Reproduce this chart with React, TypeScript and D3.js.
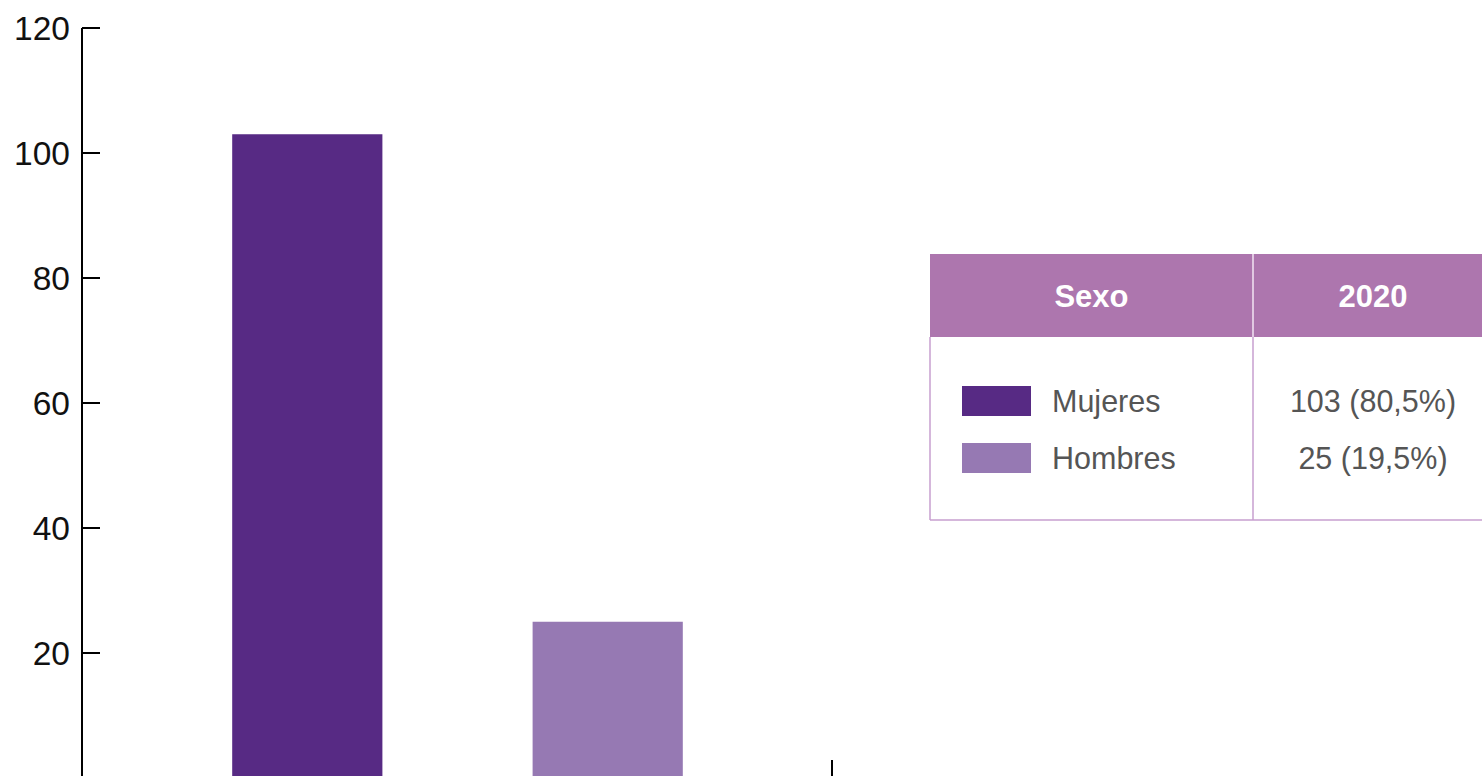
import React from "react";
import * as d3 from "d3";

const categories = ["Mujeres", "Hombres"];
const values = [103, 25];
const shares = ["80,5%", "19,5%"];
const colors = ["#572a84", "#9679b3"];
const yTicks = [20, 40, 60, 80, 100, 120];
const tableHeaders = ["Sexo", "2020"];

const W = 1482;
const H = 776;
const FONT = "'Liberation Sans', Arial, Helvetica, sans-serif";

export default function App() {
  const y = d3.scaleLinear().domain([0, 120]).range([778, 28]);
  const x = d3
    .scaleBand<string>()
    .domain(categories)
    .range([82, 833])
    .paddingInner(0.5)
    .paddingOuter(0.5);

  const tX0 = 930;
  const tX1 = 1253;
  const tX2 = 1493;
  const tY0 = 254;
  const tY1 = 337;
  const tY2 = 520;
  const rowY = (i: number) => 401 + i * 57;

  return (
    <div style={{ position: "absolute", left: 0, top: 0 }}>
      <svg width={W} height={H} style={{ display: "block" }}>
        <rect x={0} y={0} width={W} height={H} fill="#fff" />
        {categories.map((c, i) => (
          <rect
            key={c}
            x={x(c)}
            y={y(values[i])}
            width={x.bandwidth()}
            height={y(0) - y(values[i])}
            fill={colors[i]}
          />
        ))}
        <line x1={82} x2={82} y1={y(120)} y2={H} stroke="#000" strokeWidth={2} />
        {yTicks.map((t) => (
          <g key={t}>
            <line x1={82} x2={100} y1={y(t)} y2={y(t)} stroke="#000" strokeWidth={2} />
            <text
              x={70}
              y={y(t)}
              dy="0.36em"
              textAnchor="end"
              fontFamily={FONT}
              fontSize={33.5}
              fill="#111"
            >
              {t}
            </text>
          </g>
        ))}
        {[82, 832].map((px) => (
          <line key={px} x1={px} x2={px} y1={y(0)} y2={y(0) - 18} stroke="#000" strokeWidth={2} />
        ))}
        <rect x={tX0} y={tY0} width={tX2 - tX0} height={tY1 - tY0} fill="#ad76ae" />
        <line x1={tX1} x2={tX1} y1={tY0} y2={tY1} stroke="#f3e6f3" strokeWidth={1.5} />
        <line x1={tX0} x2={tX0} y1={tY1} y2={tY2} stroke="#c79fcf" strokeWidth={1.5} />
        <line x1={tX1} x2={tX1} y1={tY1} y2={tY2} stroke="#c79fcf" strokeWidth={1.5} />
        <line x1={tX0} x2={tX2} y1={tY2} y2={tY2} stroke="#c79fcf" strokeWidth={1.5} />
        {tableHeaders.map((h, i) => (
          <text
            key={h}
            x={i === 0 ? (tX0 + tX1) / 2 : (tX1 + tX2) / 2}
            y={(tY0 + tY1) / 2}
            dy="0.36em"
            textAnchor="middle"
            fontFamily={FONT}
            fontWeight="bold"
            fontSize={31}
            fill="#fff"
          >
            {h}
          </text>
        ))}
        {categories.map((c, i) => (
          <g key={c}>
            <rect x={962} y={rowY(i) - 15} width={69} height={30} fill={colors[i]} />
            <text
              x={1052}
              y={rowY(i)}
              dy="0.36em"
              fontFamily={FONT}
              fontSize={30.5}
              fill="#555"
            >
              {c}
            </text>
            <text
              x={(tX1 + tX2) / 2}
              y={rowY(i)}
              dy="0.36em"
              textAnchor="middle"
              fontFamily={FONT}
              fontSize={30.5}
              fill="#555"
            >
              {`${values[i]} (${shares[i]})`}
            </text>
          </g>
        ))}
      </svg>
    </div>
  );
}
